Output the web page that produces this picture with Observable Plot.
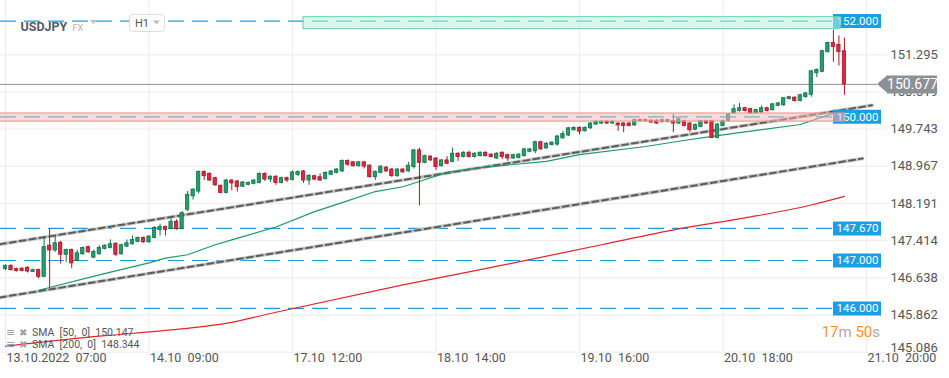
<!DOCTYPE html>
<html><head><meta charset="utf-8">
<script src="https://cdn.jsdelivr.net/npm/d3@7"></script>
<script src="https://cdn.jsdelivr.net/npm/@observablehq/plot@0.6"></script>
<style>
html,body{margin:0;padding:0;background:#fff;}
svg text{white-space:pre;}
</style></head><body>
<div id="chart"></div>
<script>
// ---- data (USDJPY, H1) ----
const opens = [146.82,146.89,146.82,146.83,146.85,146.76,146.80,146.66,147.31,147.21,
147.37,147.12,147.22,146.99,147.13,147.28,147.06,147.13,147.24,147.26,
147.35,147.13,147.29,147.34,147.39,147.47,147.38,147.47,147.64,147.70,
147.66,147.81,147.66,148.06,148.34,148.44,148.85,148.81,148.72,148.56,
148.41,148.67,148.65,148.54,148.58,148.60,148.62,148.81,148.69,148.75,
148.62,148.72,148.68,148.79,148.86,148.67,148.76,148.74,148.70,148.79,
148.83,148.86,149.08,149.05,148.97,149.05,148.98,148.74,148.83,148.94,
148.90,148.76,148.90,148.86,148.95,149.30,149.04,149.17,149.13,148.97,
149.09,149.06,149.23,149.16,149.25,149.16,149.18,149.25,149.21,149.13,
149.25,149.20,149.13,149.14,149.18,149.27,149.28,149.47,149.34,149.41,
149.42,149.55,149.61,149.72,149.77,149.70,149.76,149.84,149.86,149.90,
149.86,149.86,149.86,149.86,149.82,149.93,149.93,149.92,149.92,149.89,
149.89,149.91,149.86,149.91,149.86,149.73,149.79,149.91,149.91,149.56,
149.81,149.91,150.07,150.12,150.18,150.16,150.08,150.09,150.18,150.14,
150.23,150.24,150.37,150.40,150.33,150.41,150.46,150.91,150.94,151.35,
151.54,151.50,151.37];
const highs = [146.91,146.91,146.84,146.85,146.87,146.82,146.82,147.50,147.66,147.50,
147.40,147.24,147.24,147.21,147.28,147.30,147.22,147.31,147.33,147.43,
147.37,147.34,147.43,147.51,147.49,147.49,147.52,147.71,147.76,147.72,
147.87,147.85,148.02,148.44,148.50,148.87,148.87,148.83,148.74,148.58,
148.70,148.69,148.67,148.65,148.64,148.69,148.83,148.83,148.77,148.77,
148.74,148.74,148.87,148.87,148.88,148.79,148.78,148.81,148.85,148.88,
148.92,149.10,149.10,149.07,149.07,149.07,149.00,148.87,148.98,148.96,
148.92,148.92,148.92,149.05,149.32,149.34,149.20,149.19,149.15,149.11,
149.17,149.35,149.25,149.27,149.28,149.25,149.27,149.27,149.23,149.25,
149.27,149.22,149.22,149.23,149.34,149.34,149.49,149.49,149.46,149.48,
149.61,149.70,149.78,149.79,149.79,149.79,149.88,149.92,149.92,149.92,
149.92,149.88,149.88,149.88,149.95,149.95,149.95,149.94,149.94,149.95,
149.95,150.05,149.97,149.93,149.88,149.85,149.93,149.93,149.93,149.86,
149.93,150.07,150.25,150.28,150.20,150.18,150.16,150.23,150.20,150.28,
150.30,150.40,150.43,150.42,150.47,150.51,150.97,151.00,151.39,151.56,
151.81,151.69,151.64];
const lows = [146.79,146.78,146.76,146.76,146.74,146.75,146.62,146.64,146.43,147.17,
146.93,146.96,146.83,146.97,147.11,147.15,147.04,147.11,147.22,147.24,
147.08,147.11,147.27,147.32,147.37,147.36,147.36,147.45,147.51,147.51,
147.64,147.63,147.64,148.02,148.26,148.39,148.67,148.65,148.55,148.39,
148.39,148.46,148.43,148.52,148.56,148.58,148.60,148.65,148.63,148.57,
148.60,148.63,148.66,148.75,148.61,148.57,148.67,148.65,148.68,148.77,
148.81,148.84,148.97,148.95,148.95,148.91,148.72,148.67,148.81,148.84,
148.74,148.74,148.82,148.84,148.91,148.14,149.02,149.07,148.88,148.95,
149.00,149.04,149.07,149.14,149.14,149.14,149.16,149.16,149.14,149.11,
149.11,149.07,149.11,149.12,149.16,149.25,149.23,149.30,149.32,149.39,
149.39,149.53,149.59,149.70,149.62,149.68,149.74,149.82,149.84,149.84,
149.84,149.70,149.67,149.79,149.80,149.89,149.89,149.86,149.84,149.87,
149.87,149.67,149.84,149.79,149.67,149.71,149.77,149.84,149.54,149.54,
149.79,149.89,150.05,150.10,150.10,150.05,150.06,150.07,150.10,150.12,
150.21,150.22,150.35,150.31,150.31,150.39,150.41,150.82,150.92,151.33,
151.14,151.06,150.45];
const closes = [146.89,146.80,146.78,146.78,146.77,146.80,146.66,147.28,147.21,147.36,
147.12,147.22,146.94,147.15,147.26,147.17,147.18,147.26,147.31,147.34,
147.12,147.32,147.36,147.43,147.47,147.38,147.50,147.68,147.70,147.64,
147.81,147.66,147.99,148.37,148.48,148.85,148.76,148.67,148.57,148.41,
148.67,148.61,148.53,148.63,148.62,148.67,148.81,148.69,148.75,148.62,
148.72,148.67,148.84,148.85,148.67,148.77,148.69,148.67,148.83,148.86,
148.90,149.08,149.00,148.97,149.05,148.96,148.74,148.85,148.96,148.86,
148.76,148.90,148.84,148.98,149.30,149.04,149.18,149.09,148.95,149.09,
149.02,149.23,149.16,149.25,149.16,149.23,149.25,149.18,149.16,149.23,
149.16,149.13,149.20,149.21,149.32,149.32,149.47,149.32,149.44,149.46,
149.59,149.64,149.76,149.77,149.69,149.77,149.86,149.90,149.90,149.86,
149.90,149.82,149.81,149.81,149.93,149.91,149.91,149.88,149.86,149.93,
149.93,149.86,149.95,149.81,149.72,149.83,149.91,149.86,149.56,149.84,
149.91,150.05,150.16,150.18,150.12,150.07,150.14,150.18,150.12,150.26,
150.28,150.39,150.41,150.33,150.45,150.49,150.95,150.98,151.37,151.54,
151.46,151.35,150.677];

const sma50Idx = [7,18,27,30,34,39,42,50,57,62,68,73,76,81,87,99,105,117,123,129,134,145,153];
const sma50Val = [146.38,146.70,146.95,147.05,147.12,147.33,147.43,147.70,148.02,148.21,148.44,148.54,148.65,148.84,148.94,149.07,149.21,149.38,149.49,149.59,149.67,149.84,150.15];
const sma200Idx = [1,18,30,42,50,73,94,109,123,135,147,153];
const sma200Val = [145.21,145.42,145.54,145.71,145.92,146.49,146.97,147.33,147.66,147.89,148.16,148.34];

const trendUpperIdx = [0,158];
const trendUpperVal = [147.34,150.24];
const trendLowerIdx = [0,156.3];
const trendLowerVal = [146.23,149.13];

const levels = [152.000,150.000,147.670,147.000,146.000];
const greenZoneIdx = [55,152.3], greenZoneVal = [151.83,152.08];
const redZoneIdx = [0,153.3], redZoneVal = [149.90,150.07];
const currentPrice = 150.677;

const yTicks = [151.295,150.519,149.743,148.967,148.191,147.414,146.638,145.862,145.086];
const xTickIdx = [1,27,53,79,105,131,157];
const xTickLabels = ["13.10.2022  07:00","14.10  09:00","17.10  12:00","18.10  14:00","19.10  16:00","20.10  18:00","21.10  20:00"];
const legendLines = ["SMA  [50,  0]  150.147","SMA  [200,  0]  148.344"];

// ---- build ----
const candles = opens.map((o,k)=>({i:k+1,o,h:highs[k],l:lows[k],c:closes[k]}));
const pts = (ix,vs)=>ix.map((x,k)=>({x,v:vs[k]}));
const sma50 = pts(sma50Idx,sma50Val), sma200 = pts(sma200Idx,sma200Val);
const tUp = pts(trendUpperIdx,trendUpperVal), tLo = pts(trendLowerIdx,trendLowerVal);
const fmt = d3.format(".3f");

const blue="#1a9fe3";
const gFill="#22a06b", gDark="#137047", rFill="#e0283d", rDark="#a3182a";
const up = d=>d.c>=d.o;

const plot = Plot.plot({
  width:949, height:378, marginLeft:0, marginRight:83, marginTop:0, marginBottom:26,
  x:{domain:[1,157], range:[5,866], axis:null},
  y:{domain:[145.086,151.295], range:[351.7,54.3], axis:null},
  style:{fontFamily:"Roboto, sans-serif", background:"#fff"},
  marks:[
    Plot.ruleY(yTicks,{stroke:"#ececec", insetRight:-21}),
    Plot.ruleX(xTickIdx,{stroke:"#ececec"}),
    Plot.ruleY(levels,{stroke:blue, strokeDasharray:"16,8", insetRight:33, strokeWidth:1.2}),
    Plot.ruleY([currentPrice],{stroke:"#8d9296", insetRight:-11}),
    Plot.line(tUp,{x:"x",y:"v",stroke:"#c6c6c6",strokeWidth:3.5}),
    Plot.line(tUp,{x:"x",y:"v",stroke:"#5c5c5c",strokeWidth:2,strokeDasharray:"6,4"}),
    Plot.line(tLo,{x:"x",y:"v",stroke:"#c6c6c6",strokeWidth:3.5}),
    Plot.line(tLo,{x:"x",y:"v",stroke:"#5c5c5c",strokeWidth:2,strokeDasharray:"6,4"}),
    Plot.line(sma200,{x:"x",y:"v",stroke:"#e0262e",strokeWidth:1.2,curve:"monotone-x"}),
    Plot.line(sma50,{x:"x",y:"v",stroke:"#1c9a66",strokeWidth:1.2}),
    Plot.ruleX(candles,{x:"i",y1:"l",y2:"h",stroke:d=>up(d)?gDark:rDark,strokeWidth:1}),
    Plot.rect(candles,{x1:d=>d.i-0.3,x2:d=>d.i+0.3,y1:"o",y2:"c",fill:d=>up(d)?gFill:rFill,stroke:d=>up(d)?gDark:rDark,strokeWidth:0.8}),
    Plot.ruleY(levels,{stroke:blue, strokeWidth:14, insetLeft:833, insetRight:-15}),
    Plot.text(levels,{y:d=>d,text:d=>fmt(d),frameAnchor:"right",dx:-9,textAnchor:"middle",fill:"#fff",fontSize:11.5}),
    Plot.rect([0],{x1:greenZoneIdx[0],x2:greenZoneIdx[1],y1:greenZoneVal[0],y2:greenZoneVal[1],fill:"#bdeedc",fillOpacity:0.55,stroke:"#5fd3ac",strokeWidth:1}),
    Plot.rect([0],{x1:redZoneIdx[0],x2:redZoneIdx[1],y1:redZoneVal[0],y2:redZoneVal[1],fill:"#f9b5b5",fillOpacity:0.5,stroke:"#f08c8c",strokeWidth:1}),
    Plot.text(yTicks.slice(0,-1),{y:d=>d,text:d=>fmt(d),frameAnchor:"right",dx:24,textAnchor:"start",fill:"#555",fontSize:13}),
    Plot.text(yTicks.slice(-1),{y:d=>d,text:d=>fmt(d),frameAnchor:"right",dx:24,dy:-4,textAnchor:"start",fill:"#555",fontSize:13}),
    Plot.text(xTickIdx,{x:d=>d,text:(d,k)=>xTickLabels[k],frameAnchor:"bottom",dy:9,dx:1,textAnchor:"start",fill:"#555",fontSize:12.5}),
    Plot.ruleY([currentPrice],{stroke:"#8c9195",strokeWidth:18,insetLeft:887,insetRight:-71}),
    Plot.text([currentPrice],{y:d=>d,text:d=>fmt(d),frameAnchor:"right",dx:46,textAnchor:"middle",fill:"#fff",fontSize:14}),
    Plot.text(["USDJPY"],{frameAnchor:"top-left",dx:20,dy:22,textAnchor:"start",fontWeight:"bold",fontSize:12.5,fill:"#525c66"}),
    Plot.text(["FX"],{frameAnchor:"top-left",dx:72,dy:24,textAnchor:"start",fontSize:9,fill:"#aab1b8"})
  ]
});
document.getElementById("chart").appendChild(plot);

// chrome: arrow tip, header box, legend, countdown
const svg = d3.select(plot);
const ys = plot.scale("y");
const cy = ys.apply(currentPrice);
svg.append("path").attr("d",`M877,${cy} L887.5,${cy-9} L887.5,${cy+9} Z`).attr("fill","#8c9195");
svg.append("path").attr("d","M90,20 L97,20 L93.5,24 Z").attr("fill","#b9c0c7");
svg.append("rect").attr("x",129.5).attr("y",14.5).attr("width",35).attr("height",17).attr("rx",3).attr("fill","#fff").attr("stroke","#dcdcdc");
svg.append("text").attr("x",135).attr("y",23).attr("dy","0.35em").attr("text-anchor","start").attr("font-size",11).attr("fill","#555").text("H1");
svg.append("path").attr("d","M153,20.5 L160,20.5 L156.5,24.5 Z").attr("fill","#b9c0c7");
legendLines.forEach((t,k)=>{
  const yy = 332 + k*12.5;
  svg.append("text").attr("x",6).attr("y",yy).attr("dy","0.35em").attr("text-anchor","start").attr("font-size",11).attr("fill","#a0a0a0").attr("font-family","DejaVu Sans").text("≡");
  svg.append("text").attr("x",19).attr("y",yy).attr("dy","0.35em").attr("text-anchor","start").attr("font-size",10).attr("fill","#a0a0a0").attr("font-family","DejaVu Sans").text("✖");
  svg.append("text").attr("x",32).attr("y",yy).attr("dy","0.35em").attr("text-anchor","start").attr("font-size",10.5).attr("fill","#555").text(t);
});
const cd = svg.append("text").attr("x",880).attr("y",332).attr("dy","0.35em").attr("text-anchor","end").attr("font-size",15);
cd.append("tspan").attr("fill","#f7931e").text("17");
cd.append("tspan").attr("fill","#aaa").text("m ");
cd.append("tspan").attr("fill","#f7931e").text("50");
cd.append("tspan").attr("fill","#aaa").text("s");
</script>
</body></html>
